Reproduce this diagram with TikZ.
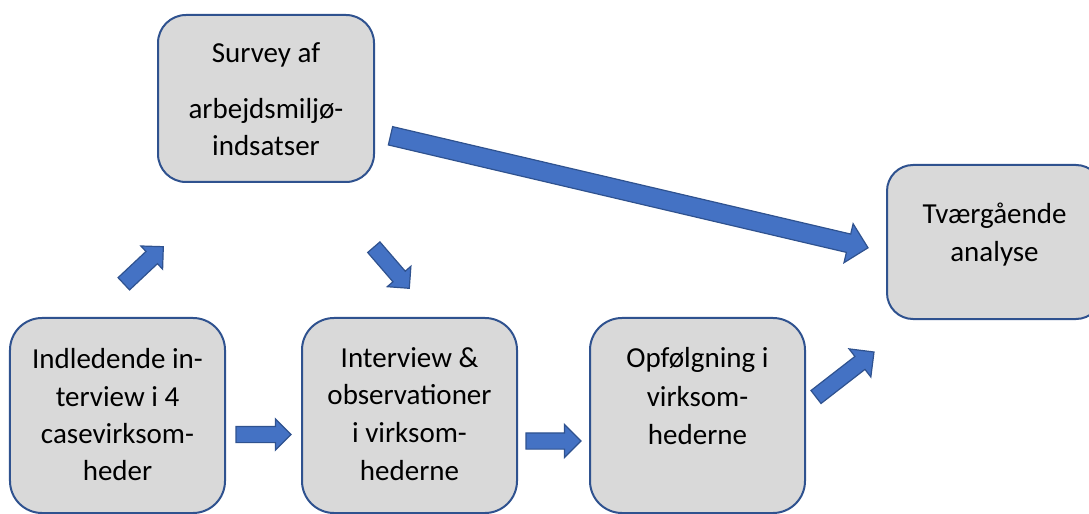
\documentclass[tikz,border=0pt]{standalone}
\usepackage{fontspec}
\setmainfont{Carlito}
\usetikzlibrary{shapes.arrows}
\definecolor{boxfill}{HTML}{D9D9D9}
\definecolor{boxline}{HTML}{2F528F}
\definecolor{arrfill}{HTML}{4472C4}
\definecolor{arrline}{HTML}{2F528F}
\begin{document}
\begin{tikzpicture}[x=1bp,y=-1bp,
  box/.style={draw=boxline, line width=2bp, fill=boxfill, minimum width=215bp, inner sep=0pt},
  txt/.style={font=\fontsize{29bp}{36bp}\selectfont, anchor=base, inner sep=0pt, text=black},
  barrow/.style={single arrow, draw=arrline, line width=1.2bp, fill=arrfill, inner xsep=0pt, outer sep=0pt, anchor=tail, single arrow tip angle=90}
]
\useasboundingbox (0,0) rectangle (1089,514);

% boxes
\node[box, rounded corners=28bp, minimum width=216bp, minimum height=167bp] (survey) at (266,98.5) {};
\node[box, rounded corners=32bp, minimum height=195bp] (indl) at (117.5,415.5) {};
\node[box, rounded corners=32bp, minimum height=195bp] (interv) at (409.5,415.5) {};
\node[box, rounded corners=32bp, minimum height=195bp] (opf) at (697.5,415.5) {};
\node[box, rounded corners=26bp, minimum height=154bp] (tvaer) at (994.5,242) {};

% texts
\node[txt] (s1) at (266,62.3) {Survey af};
\node[txt] (s2) at (266,118.3) {arbejdsmiljø-};
\node[txt] (s3) at (266,156) {indsatser};

\node[txt] (i1) at (117.5,368.3) {Indledende in-};
\node[txt] (i2) at (117.5,406) {terview i 4};
\node[txt] (i3) at (117.5,443.3) {casevirksom-};
\node[txt] (i4) at (117.5,480.7) {heder};

\node[txt] (v1) at (409.5,367.3) {Interview \&};
\node[txt] (v2) at (409.5,404.5) {observationer};
\node[txt] (v3) at (409.5,442.3) {i virksom-};
\node[txt] (v4) at (409.5,480) {hederne};

\node[txt] (o1) at (697.5,368) {Opfølgning i};
\node[txt] (o2) at (697.5,406) {virksom-};
\node[txt] (o3) at (697.5,444) {hederne};

\node[txt] (t1) at (994.5,224) {Tværgående};
\node[txt] (t2) at (994.5,261.7) {analyse};

% block arrows
\node[barrow, minimum height=54.2bp, inner ysep=7.8bp, single arrow head extend=7.5bp, rotate=43.2] (a1) at (123.8,283.8) {};
\node[barrow, minimum height=54.3bp, inner ysep=7.5bp, single arrow head extend=7.5bp, rotate=-49.2] (a2) at (373.8,247.2) {};
\node[barrow, minimum height=490.5bp, inner ysep=8.8bp, single arrow head extend=10.6bp, rotate=-13.2] (a3) at (390.5,135.8) {};
\node[barrow, minimum height=55bp, inner ysep=7.5bp, single arrow head extend=7.5bp] (a4) at (236,434.5) {};
\node[barrow, minimum height=55bp, inner ysep=7.5bp, single arrow head extend=8.5bp] (a5) at (526,441) {};
\node[barrow, minimum height=73.4bp, inner ysep=7.6bp, single arrow head extend=9.6bp, rotate=37.8] (a6) at (816,397) {};
\end{tikzpicture}
\end{document}
